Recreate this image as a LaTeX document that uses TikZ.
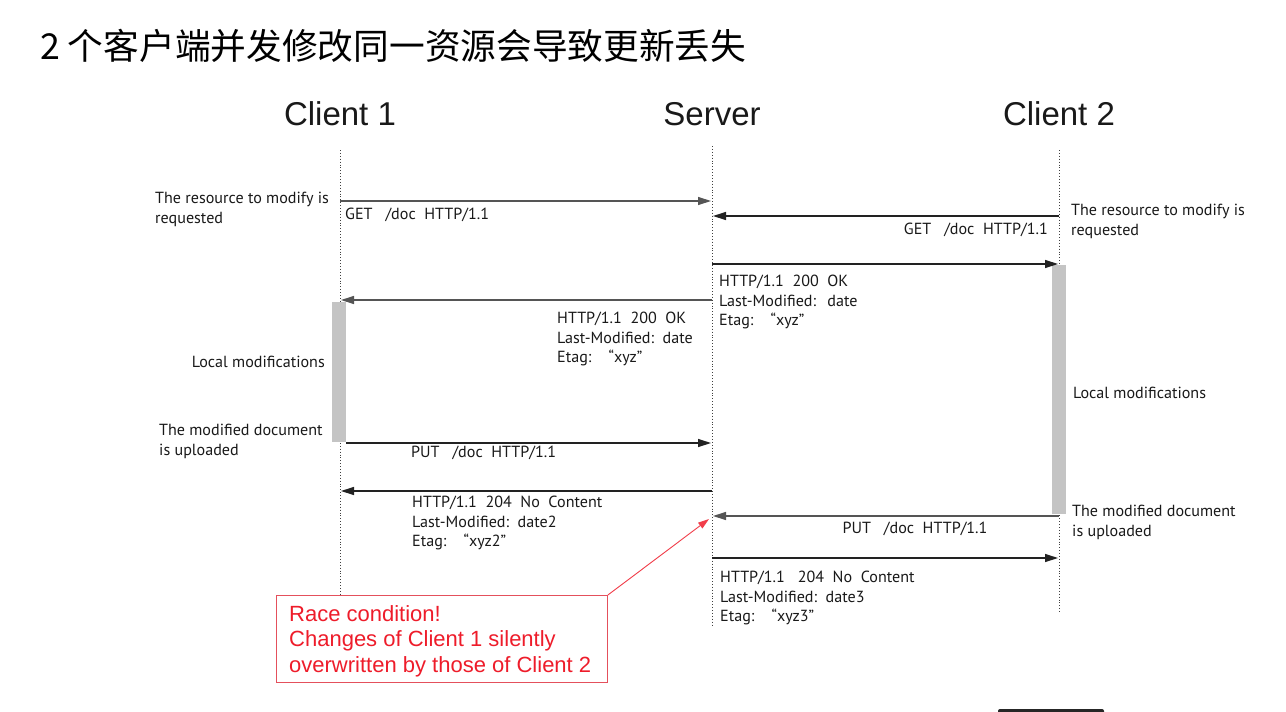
\documentclass[tikz,border=0pt]{standalone}
\usepackage{fontspec}
\setmainfont{PT Sans}
\newfontfamily\cjk{Noto Sans CJK SC}
\newfontfamily\arialf{Liberation Sans}
\usetikzlibrary{arrows.meta}
\definecolor{msgdark}{HTML}{222222}
\definecolor{msggray}{HTML}{555555}
\definecolor{barfill}{HTML}{C4C4C4}
\definecolor{racered}{HTML}{EE1C2A}
\definecolor{raceborder}{HTML}{E4505C}
\tikzset{
  lifeline/.style={draw=black!75, line width=0.9pt, dotted},
  msg/.style={draw=msgdark, line width=1.3pt, -{Triangle[length=13pt,width=8pt]}},
  msglight/.style={draw=msggray, line width=1.3pt, -{Triangle[length=13pt,width=8pt]}},
  actbar/.style={fill=barfill, draw=none},
  lbl/.style={inner sep=0pt, align=left, font=\fontsize{16.1}{19.5}\selectfont, text=black!90},
  lblr/.style={inner sep=0pt, align=right, font=\fontsize{16.1}{19.5}\selectfont, text=black!90},
  head/.style={inner sep=0pt, font=\arialf\fontsize{33}{36}\selectfont, text=black!90},
  racebox/.style={draw=raceborder, line width=0.9pt, fill=white},
  racetext/.style={inner sep=0pt, align=left, text=racered, font=\arialf\fontsize{22}{25.5}\selectfont},
  racearrow/.style={draw=racered!85, line width=0.9pt, -{Triangle[length=11pt,width=7pt]}}
}
\begin{document}
\begin{tikzpicture}[x=1pt,y=-1pt]
\useasboundingbox (0,0) rectangle (1286,712);
\fill[white] (0,0) rectangle (1286,712);
% title
\node[anchor=west, inner sep=0pt, font=\cjk\fontsize{35.7}{40}\selectfont] (title) at (40,46) {2 个客户端并发修改同一资源会导致更新丢失};
% headers
\node[head] (h1) at (340,114) {Client 1};
\node[head] (hs) at (712,114) {Server};
\node[head] (h2) at (1059,114) {Client 2};
% lifelines
\coordinate (c1t) at (340,150); \coordinate (c1b) at (340,595);
\coordinate (st) at (712,146);  \coordinate (sb) at (712,626);
\coordinate (c2t) at (1059,150); \coordinate (c2b) at (1059,612);
\draw[lifeline] (c1t) -- (c1b);
\draw[lifeline] (st) -- (sb);
\draw[lifeline] (c2t) -- (c2b);
% activation bars
\fill[actbar] (332,302) rectangle (346,442);
\fill[actbar] (1052,265) rectangle (1066,514);
% message coordinates
\coordinate (m1a) at (340,201); \coordinate (m1b) at (711,201);
\coordinate (m2a) at (1059,216); \coordinate (m2b) at (713,216);
\coordinate (m3a) at (712,264); \coordinate (m3b) at (1058,264);
\coordinate (m4a) at (712,300); \coordinate (m4b) at (341,300);
\coordinate (m5a) at (346,443); \coordinate (m5b) at (711,443);
\coordinate (m6a) at (712,491); \coordinate (m6b) at (341,491);
\coordinate (m7a) at (1059,516); \coordinate (m7b) at (713,516);
\coordinate (m8a) at (712,558); \coordinate (m8b) at (1058,558);
\draw[msglight] (m1a) -- (m1b);
\draw[msg] (m2a) -- (m2b);
\draw[msg] (m3a) -- (m3b);
\draw[msglight] (m4a) -- (m4b);
\draw[msg] (m5a) -- (m5b);
\draw[msg] (m6a) -- (m6b);
\draw[msglight] (m7a) -- (m7b);
\draw[msg] (m8a) -- (m8b);
% message labels
\node[lbl, anchor=west] (l1) at (345,214.5) {GET\ \ \ /doc\ \ HTTP/1.1};
\node[lbl, anchor=east] (l2) at (1048,229.5) {GET\ \ \ /doc\ \ HTTP/1.1};
\node[lbl, anchor=north west] (l3) at (719,275) {HTTP/1.1\ \ 200\ \ OK\\Last-Modified:\ \ \,date\\Etag:\ \ \ \ “xyz”};
\node[lbl, anchor=north west] (l4) at (557,312) {HTTP/1.1\ \ 200\ \ OK\\Last-Modified:\ \ date\\Etag:\ \ \ \ “xyz”};
\node[lbl, anchor=west] (l5) at (411,452.5) {PUT\ \ \ /doc\ \ HTTP/1.1};
\node[lbl, anchor=north west] (l6) at (412,496) {HTTP/1.1\ \ 204\ \ No\ \ Content\\Last-Modified:\ \ date2\\Etag:\ \ \ \ “xyz2”};
\node[lbl] (l7) at (915,528.5) {PUT\ \ \ /doc\ \ HTTP/1.1};
\node[lbl, anchor=north west] (l8) at (720,571) {HTTP/1.1\ \ \ 204\ \ No\ \ Content\\Last-Modified:\ \ date3\\Etag:\ \ \ \ “xyz3”};
% side notes
\node[lbl, anchor=north west] (n1) at (155,192) {The resource to modify is\\requested};
\node[lblr, anchor=east] (n2) at (325,361.5) {Local modifications};
\node[lbl, anchor=north west] (n3) at (159,424) {The modified document\\is uploaded};
\node[lbl, anchor=north west] (n4) at (1071,204) {The resource to modify is\\requested};
\node[lbl, anchor=west] (n5) at (1073,392.5) {Local modifications};
\node[lbl, anchor=north west] (n6) at (1072,505) {The modified document\\is uploaded};
% race condition box
\node[racebox, minimum width=331pt, minimum height=87pt, anchor=north west, inner sep=0pt] (race) at (276,595) {};
\node[racetext, anchor=north west] (racet) at (289,605) {Race condition!\\Changes of Client 1 silently\\overwritten by those of Client 2};
\coordinate (rtip) at (709,519);
\draw[racearrow] (race.north east) -- (rtip);
% bottom black bar (cut off)
\fill[black!85, rounded corners=2pt] (998,709) rectangle (1104,718);
\end{tikzpicture}
\end{document}
